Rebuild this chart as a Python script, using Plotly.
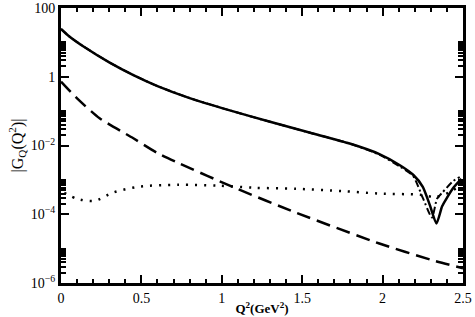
import plotly.graph_objects as go

# Solid: total |G_Q(Q^2)|
x_solid = [0.0, 0.05, 0.14, 0.30, 0.45, 0.60, 0.80, 1.05, 1.30, 1.55, 1.80, 1.98, 2.11, 2.19, 2.25, 2.295, 2.335, 2.37, 2.40, 2.44, 2.49]
y_solid = [24.5, 15.1, 7.59, 2.63, 1.12, 0.537, 0.24, 0.105, 0.049, 0.0234, 0.0112, 0.00562, 0.00263, 0.00141, 0.00063, 0.000178, 0.0000537, 0.00017, 0.0003, 0.00059, 0.00107]

# Dash-dot: overlaps solid, differs near the dip
x_dashdot = [0.0, 0.05, 0.14, 0.30, 0.45, 0.60, 0.80, 1.05, 1.30, 1.55, 1.80, 1.98, 2.11, 2.19, 2.25, 2.307, 2.338, 2.37, 2.44, 2.48]
y_dashdot = [24.5, 15.1, 7.59, 2.63, 1.12, 0.537, 0.24, 0.105, 0.049, 0.0234, 0.0112, 0.0054, 0.0024, 0.0013, 0.0003, 0.00008, 0.00028, 0.00042, 0.00093, 0.0012]

# Dashed
x_dashed = [0.0, 0.10, 0.24, 0.45, 0.60, 0.73, 1.08, 1.46, 1.98, 2.31, 2.50]
y_dashed = [0.72, 0.234, 0.062, 0.0162, 0.006, 0.0031, 0.00059, 0.000112, 0.0000141, 0.0000046, 0.0000027]

# Dotted
x_dotted = [0.02, 0.10, 0.21, 0.32, 0.48, 0.73, 0.98, 1.20, 1.46, 1.75, 1.98, 2.23, 2.33, 2.42, 2.50]
y_dotted = [0.00042, 0.00028, 0.000245, 0.00042, 0.00063, 0.00072, 0.00068, 0.00059, 0.00055, 0.00047, 0.0004, 0.00037, 0.00032, 0.00045, 0.0008]

x_ticks = [0, 0.5, 1, 1.5, 2, 2.5]
x_ticktext = ["0", "0.5", "1", "1.5", "2", "2.5"]
y_ticks = [1e-6, 1e-4, 1e-2, 1, 100]
y_ticktext = ["10<sup>−6</sup>", "10<sup>−4</sup>", "10<sup>−2</sup>", "1", "100"]
y_minor = [k * 10.0 ** e for e in (-6, -4, -2, 0) for k in range(2, 11)]
x_minor = [i / 10 for i in range(0, 26)]

fig = go.Figure()
fig.add_trace(go.Scatter(x=x_dashdot, y=y_dashdot, mode="lines",
                         line=dict(color="black", width=2, dash="7px,3px,2px,3px", shape="spline", smoothing=0.6)))
fig.add_trace(go.Scatter(x=x_solid, y=y_solid, mode="lines",
                         line=dict(color="black", width=2.5, shape="spline", smoothing=0.6)))
fig.add_trace(go.Scatter(x=x_dashed, y=y_dashed, mode="lines",
                         line=dict(color="black", width=2.5, dash="14px,7px", shape="spline", smoothing=0.6)))
fig.add_trace(go.Scatter(x=x_dotted, y=y_dotted, mode="lines",
                         line=dict(color="black", width=2.5, dash="2px,7px", shape="spline", smoothing=0.8)))

font_family = "Liberation Serif, DejaVu Serif, serif"
fig.update_layout(
    width=475, height=317,
    margin=dict(l=61, r=12, t=8, b=34),
    paper_bgcolor="white", plot_bgcolor="white",
    showlegend=False,
    font=dict(family=font_family, color="black", size=14),
    xaxis=dict(
        range=[0, 2.5], tickmode="array", tickvals=x_ticks, ticktext=x_ticktext,
        ticks="inside", ticklen=8, tickwidth=2, tickcolor="black",
        showline=True, linewidth=3, linecolor="black", mirror="ticks",
        showgrid=False, zeroline=False, automargin=False,
        tickfont=dict(size=14, family=font_family),
        minor=dict(tickmode="array", tickvals=x_minor, ticks="inside", ticklen=4, tickwidth=2, tickcolor="black", showgrid=False),
        title=dict(text="<b>Q<sup>2</sup>(GeV<sup>2</sup>)</b>", font=dict(size=13, family=font_family), standoff=0),
    ),
    yaxis=dict(
        type="log", range=[-6, 2], tickmode="array", tickvals=y_ticks, ticktext=y_ticktext,
        ticks="inside", ticklen=8, tickwidth=2, tickcolor="black",
        showline=True, linewidth=3, linecolor="black", mirror="ticks",
        showgrid=False, zeroline=False, automargin=False,
        tickfont=dict(size=14, family=font_family),
        minor=dict(tickmode="array", tickvals=y_minor, ticks="inside", ticklen=5, tickwidth=2, tickcolor="black", showgrid=False),
        title=dict(text="|G<sub>Q</sub>(Q<sup>2</sup>)|", font=dict(size=16, family=font_family), standoff=4),
    ),
)

fig.write_html("out.html", config={"displayModeBar": False},
               post_script="document.body.style.margin='0';document.body.style.padding='0';")
